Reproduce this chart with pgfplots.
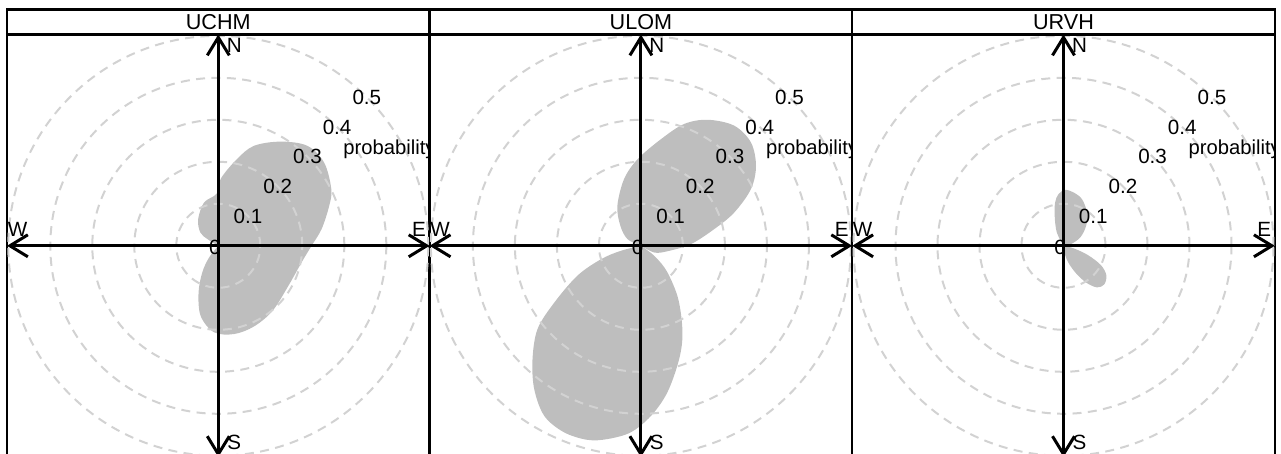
\documentclass[border=0pt]{standalone}
\usepackage{fontspec}
\setmainfont{Liberation Sans}
\usepackage{pgfplots}
\pgfplotsset{compat=1.18}
\usetikzlibrary{arrows.meta}

\definecolor{lobe}{HTML}{BEBEBE}
\definecolor{ring}{HTML}{D2D2D2}

\pgfplotsset{
  rosepanel/.style={
    scale only axis, width=211.3pt, height=211.3pt,
    xmin=-0.503, xmax=0.503, ymin=-0.503, ymax=0.503,
    xtick=\empty, ytick=\empty,
    axis line style={line width=1.1pt, black},
    clip mode=global,
    anchor=north west,
  },
  lobestyle/.style={fill=lobe, draw=none, smooth, tension=0.55, forget plot},
}
\tikzset{
  ringline/.style={ring, line width=1pt, dash pattern=on 4.5pt off 3.2pt},
  compass/.style={line width=1.5pt, {Straight Barb[length=9pt,width=11pt]}-{Straight Barb[length=9pt,width=11pt]}},
  lab/.style={font=\fontsize{10.3}{12}\selectfont},
}

% rings, compass axes and probability labels of one panel
\newcommand\roseframe{%
  \draw[ringline] (axis cs:0,0) circle[radius=21.0pt];
  \draw[ringline] (axis cs:0,0) circle[radius=42.0pt];
  \draw[ringline] (axis cs:0,0) circle[radius=63.0pt];
  \draw[ringline] (axis cs:0,0) circle[radius=84.0pt];
  \draw[ringline] (axis cs:0,0) circle[radius=105.0pt];
  \draw[compass] (axis cs:-0.503,0) -- (axis cs:0.503,0);
  \draw[compass] (axis cs:0,-0.503) -- (axis cs:0,0.503);
  \node[lab] at (axis cs:0.038,0.476) {N};
  \node[lab] at (axis cs:0.038,-0.468) {S};
  \node[lab] at (axis cs:-0.478,0.040) {W};
  \node[lab] at (axis cs:0.478,0.040) {E};
  \node[lab] at (axis cs:-0.008,-0.003) {0};
  \node[lab] at (axis cs:0.0707,0.0707) {0.1};
  \node[lab] at (axis cs:0.1414,0.1414) {0.2};
  \node[lab] at (axis cs:0.2121,0.2121) {0.3};
  \node[lab] at (axis cs:0.2828,0.2828) {0.4};
  \node[lab] at (axis cs:0.3536,0.3536) {0.5};
  \node[anchor=west, inner sep=0pt, font=\fontsize{10.1}{12}\selectfont] at (axis cs:0.297,0.230) {probability};
}

% panel strip with site name
\newcommand\strip[2]{%
  \draw[line width=1.1pt, fill=white] (#1.north west) rectangle ([yshift=12.5pt]#1.north east);
  \node[font=\fontsize{10.8}{12}\selectfont] at ([yshift=6.25pt]#1.north) {#2};
}

\begin{document}
\begin{tikzpicture}
\useasboundingbox (0,0) rectangle (640.5pt,227pt);

% ---------------- UCHM ----------------
\begin{axis}[rosepanel, name=ax1, at={(3.5pt,209.75pt)}]
\addplot[lobestyle] coordinates {
 (0.000,0.000) (-0.026,0.016) (-0.043,0.032) (-0.048,0.063) (-0.034,0.103)
 (-0.004,0.124) (0.006,0.160) (0.044,0.206) (0.085,0.238) (0.149,0.248)
 (0.212,0.238) (0.252,0.198) (0.269,0.135) (0.264,0.095) (0.246,0.040)
 (0.222,0.000) (0.198,-0.040) (0.167,-0.095) (0.129,-0.155) (0.085,-0.192)
 (0.038,-0.210) (-0.010,-0.206) (-0.042,-0.167) (-0.047,-0.111) (-0.038,-0.063)
 (-0.022,-0.028) (0.000,0.000)
};
\roseframe
\end{axis}
\strip{ax1}{UCHM}

% ---------------- ULOM ----------------
\begin{axis}[rosepanel, name=ax2, at={(214.8pt,209.75pt)}]
\addplot[lobestyle] coordinates {
 (0.000,0.000) (-0.032,0.016) (-0.049,0.048) (-0.056,0.095) (-0.040,0.159)
 (-0.008,0.206) (0.048,0.254) (0.103,0.290) (0.159,0.300) (0.222,0.286)
 (0.262,0.246) (0.274,0.190) (0.262,0.135) (0.222,0.079) (0.175,0.040)
 (0.119,0.004) (0.063,-0.013) (0.032,-0.016) (0.000,0.000)
};
\addplot[lobestyle] coordinates {
 (0.000,0.000) (-0.048,-0.012) (-0.095,-0.032) (-0.151,-0.071) (-0.206,-0.135)
 (-0.246,-0.198) (-0.258,-0.270) (-0.254,-0.341) (-0.230,-0.405) (-0.183,-0.444)
 (-0.127,-0.462) (-0.079,-0.460) (-0.024,-0.444) (0.024,-0.405) (0.063,-0.349)
 (0.091,-0.270) (0.099,-0.206) (0.089,-0.127) (0.063,-0.063) (0.036,-0.028)
 (0.012,-0.008) (0.000,0.000)
};
\roseframe
\end{axis}
\strip{ax2}{ULOM}

% ---------------- URVH ----------------
\begin{axis}[rosepanel, name=ax3, at={(426.1pt,209.75pt)}]
\addplot[lobestyle] coordinates {
 (0.000,0.000) (-0.016,0.032) (-0.021,0.071) (-0.020,0.103) (-0.012,0.123)
 (0.004,0.133) (0.024,0.127) (0.044,0.111) (0.056,0.079) (0.054,0.048)
 (0.040,0.020) (0.016,0.003) (0.000,0.000)
};
\addplot[lobestyle] coordinates {
 (0.000,0.000) (0.024,-0.006) (0.058,-0.022) (0.089,-0.046) (0.102,-0.070)
 (0.097,-0.092) (0.080,-0.099) (0.056,-0.089) (0.032,-0.068) (0.012,-0.041)
 (0.002,-0.016) (0.000,0.000)
};
\roseframe
\end{axis}
\strip{ax3}{URVH}

\end{tikzpicture}
\end{document}
